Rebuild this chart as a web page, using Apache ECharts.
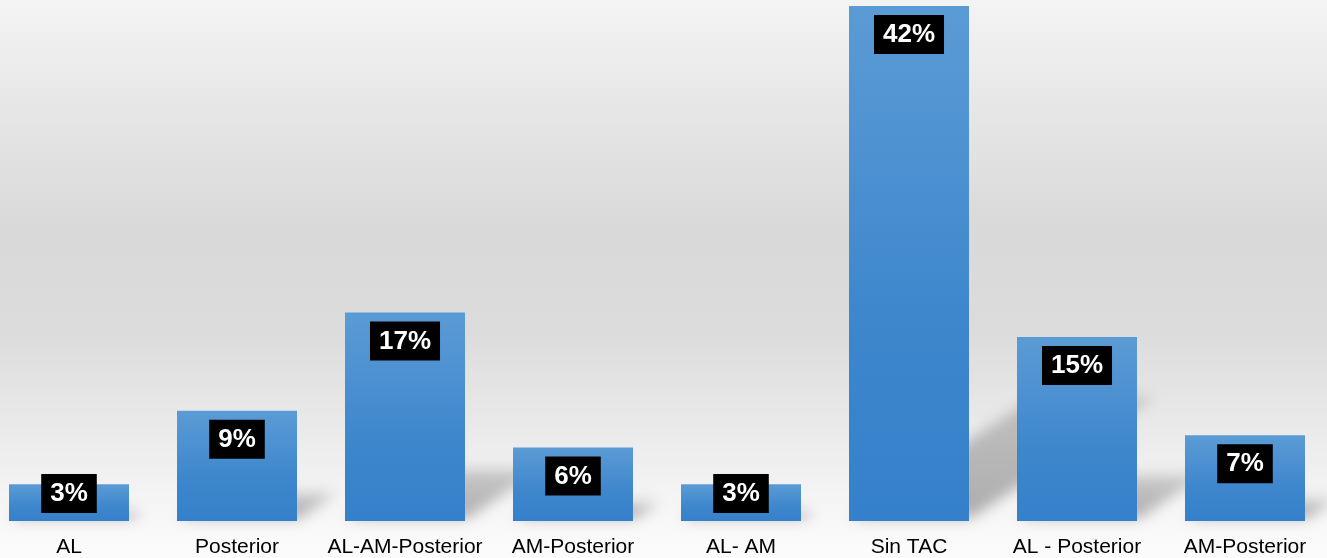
<!DOCTYPE html>
<html>
<head>
<meta charset="utf-8">
<script src="https://cdn.jsdelivr.net/npm/echarts@6/dist/echarts.min.js"></script>
<style>
html,body{margin:0;padding:0;overflow:hidden;width:1327px;height:558px;background:#f4f4f4;}
#c{width:1344px;height:558px;position:absolute;left:-15px;top:0;}
</style>
</head>
<body>
<div id="c"></div>
<script>
const categories = ['AL', 'Posterior', 'AL-AM-Posterior', 'AM-Posterior', 'AL- AM', 'Sin TAC', 'AL - Posterior', 'AM-Posterior'];
const values = [3, 9, 17, 6, 3, 42, 15, 7];
const smallBarLimit = 4;

const chart = echarts.init(document.getElementById('c'));
const BAR_RATIO = 120 / 168;
const OFF = 3000;

function shadowItem(params, api) {
  const idx = api.value(0);
  const val = api.value(1);
  const base = api.coord([idx, 0]);
  const top = api.coord([idx, val]);
  const bw = api.size([1, 0])[0] * BAR_RATIO;
  const h = base[1] - top[1];
  const dx = h * 0.36, dy = h * 0.235;
  const x0 = base[0] - bw / 2 - OFF, x1 = base[0] + bw / 2 - OFF, yb = base[1] - 3;
  return {
    type: 'polygon',
    shape: { points: [[x0 + 2, yb], [x1 + 2, yb], [x1 + dx, yb - dy], [x0 + dx, yb - dy]] },
    style: {
      fill: new echarts.graphic.LinearGradient(0, 1, 0, 0, [
        { offset: 0, color: 'rgba(0,0,0,1)' },
        { offset: 1, color: 'rgba(0,0,0,0.55)' }
      ]),
      shadowBlur: 14,
      shadowColor: 'rgba(0,0,0,0.3)',
      shadowOffsetX: OFF,
      shadowOffsetY: 0
    }
  };
}

const barData = values.map(v => {
  const small = v < smallBarLimit;
  return {
    value: v,
    label: small ? { position: 'insideBottom', distance: 8 } : { position: 'insideTop', distance: 9 }
  };
});

chart.setOption({
  animation: false,
  backgroundColor: {
    type: 'linear', x: 0, y: 0, x2: 0, y2: 1,
    colorStops: [
      { offset: 0, color: '#f4f4f4' },
      { offset: 0.2, color: '#e6e6e6' },
      { offset: 0.42, color: '#d9d9d9' },
      { offset: 0.6, color: '#dcdcdc' },
      { offset: 0.78, color: '#ebebeb' },
      { offset: 0.9, color: '#f5f5f5' },
      { offset: 1, color: '#fcfcfc' }
    ]
  },
  grid: { left: 0, right: 0, top: 6, bottom: 37, containLabel: false },
  xAxis: {
    type: 'category',
    data: categories,
    axisLine: { show: false },
    axisTick: { show: false },
    axisLabel: {
      interval: 0,
      fontSize: 21,
      color: '#000',
      fontFamily: 'Liberation Sans, Arial, sans-serif',
      margin: 16
    }
  },
  yAxis: {
    type: 'value', min: 0, max: 42, show: false,
    splitLine: { show: false }
  },
  series: [
    {
      type: 'custom',
      z: 1,
      renderItem: shadowItem,
      encode: { x: 0, y: 1 },
      data: values.map((v, i) => [i, v]),
      silent: true
    },
    {
      type: 'bar',
      z: 5,
      data: barData,
      barWidth: 120,
      itemStyle: {
        color: new echarts.graphic.LinearGradient(0, 0, 0, 1, [
          { offset: 0, color: '#5b9bd5' },
          { offset: 0.6, color: '#3e87cd' },
          { offset: 1, color: '#3580ca' }
        ])
      },
      label: {
        show: true,
        formatter: '{c}%',
        color: '#fff',
        fontWeight: 'bold',
        fontSize: 26,
        lineHeight: 26,
        fontFamily: 'Liberation Sans, Arial, sans-serif',
        backgroundColor: '#000',
        padding: [7, 9, 6, 9]
      }
    }
  ]
});
</script>
</body>
</html>
